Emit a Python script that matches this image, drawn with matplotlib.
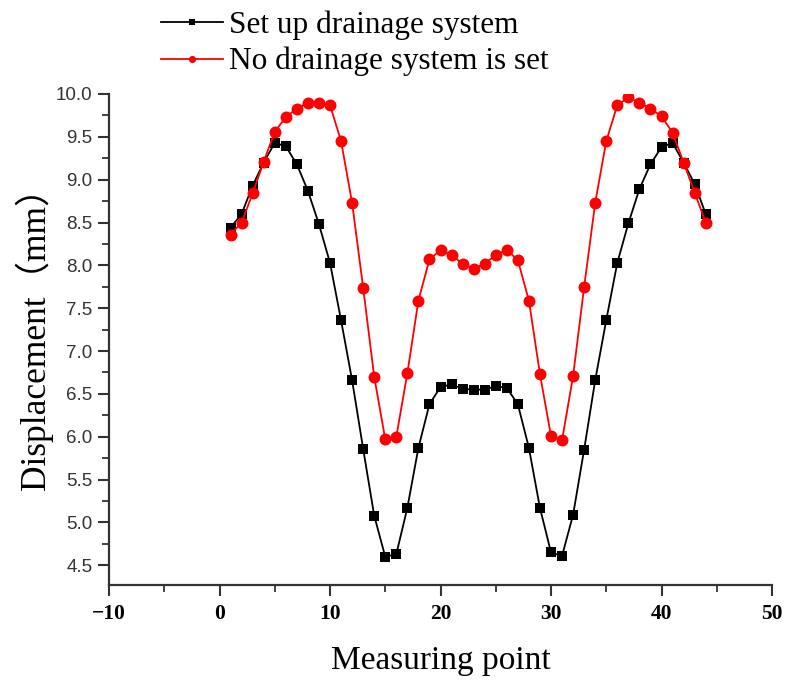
import matplotlib
matplotlib.use("Agg")
import matplotlib.pyplot as plt
from matplotlib.ticker import MultipleLocator, FormatStrFormatter

# Measuring points 1..44
points = list(range(1, 45))

with_drainage = [
    8.44, 8.60, 8.93, 9.20, 9.43, 9.39, 9.18, 8.87, 8.48, 8.03,
    7.36, 6.66, 5.86, 5.08, 4.60, 4.63, 5.17, 5.87, 6.38, 6.58,
    6.61, 6.56, 6.55, 6.55, 6.59, 6.57, 6.38, 5.87, 5.17, 4.65,
    4.61, 5.09, 5.85, 6.66, 7.36, 8.03, 8.49, 8.89, 9.18, 9.38,
    9.43, 9.20, 8.95, 8.60,
]

without_drainage = [
    8.36, 8.50, 8.84, 9.21, 9.56, 9.73, 9.83, 9.90, 9.90, 9.87,
    9.45, 8.73, 7.74, 6.70, 5.97, 6.00, 6.74, 7.59, 8.07, 8.18,
    8.12, 8.02, 7.96, 8.02, 8.12, 8.18, 8.06, 7.59, 6.73, 6.01,
    5.96, 6.71, 7.75, 8.73, 9.45, 9.87, 9.96, 9.90, 9.83, 9.74,
    9.55, 9.20, 8.85, 8.50,
]

series_labels = ["Set up drainage system", "No drainage system is set"]
x_label = "Measuring point"
y_label = "Displacement（mm）"

serif = ["Liberation Serif", "Noto Sans CJK SC"]
sans = ["Liberation Sans", "DejaVu Sans"]

fig = plt.figure(figsize=(7.87, 6.86), dpi=100)
ax = fig.add_axes([109 / 787, 1 - 585 / 686, (772 - 109) / 787, (585 - 94) / 686])

l1, = ax.plot(points, with_drainage, color="black", lw=1.3, marker="s",
              markersize=7.8, markeredgewidth=0, label=series_labels[0], zorder=3)
l2, = ax.plot(points, without_drainage, color="#ff0000", lw=1.3, marker="o",
              markersize=8.6, markeredgewidth=0, label=series_labels[1], zorder=4)

ax.set_xlim(-10, 50)
ax.set_ylim(4.27, 10.0)

ax.xaxis.set_major_locator(MultipleLocator(10))
ax.xaxis.set_minor_locator(MultipleLocator(5))
ax.yaxis.set_major_locator(MultipleLocator(0.5))
ax.yaxis.set_minor_locator(MultipleLocator(0.25))
ax.yaxis.set_major_formatter(FormatStrFormatter("%.1f"))

for side in ("top", "right"):
    ax.spines[side].set_visible(False)
for side in ("left", "bottom"):
    ax.spines[side].set_linewidth(1.6)
    ax.spines[side].set_color("#333333")

ax.tick_params(which="major", direction="out", length=8, width=1.5, color="#333333")
ax.tick_params(which="minor", direction="out", length=5, width=1.3, color="#333333")
ax.tick_params(axis="x", which="major", pad=6)
ax.tick_params(axis="y", which="major", pad=4)

for t in ax.get_xticklabels():
    t.set_fontfamily(serif)
    t.set_fontweight("bold")
    t.set_fontsize(15.5)
for t in ax.get_yticklabels():
    t.set_fontfamily(sans)
    t.set_fontsize(13.5)
    t.set_color("#333333")

ax.set_xlabel(x_label, fontsize=24, family=serif, labelpad=15)
ax.set_ylabel(y_label, fontsize=25.5, family=serif, labelpad=2, y=0.52)

fig.legend(handles=[l1, l2], loc="upper left", bbox_to_anchor=(145 / 787, 1 + 5 / 686),
           frameon=False, prop={"family": serif, "size": 22.5}, handlelength=2.0,
           handletextpad=0.2, labelspacing=0.22, borderpad=0, markerscale=0.6)

fig.savefig("out.png", dpi=100, facecolor="white")
